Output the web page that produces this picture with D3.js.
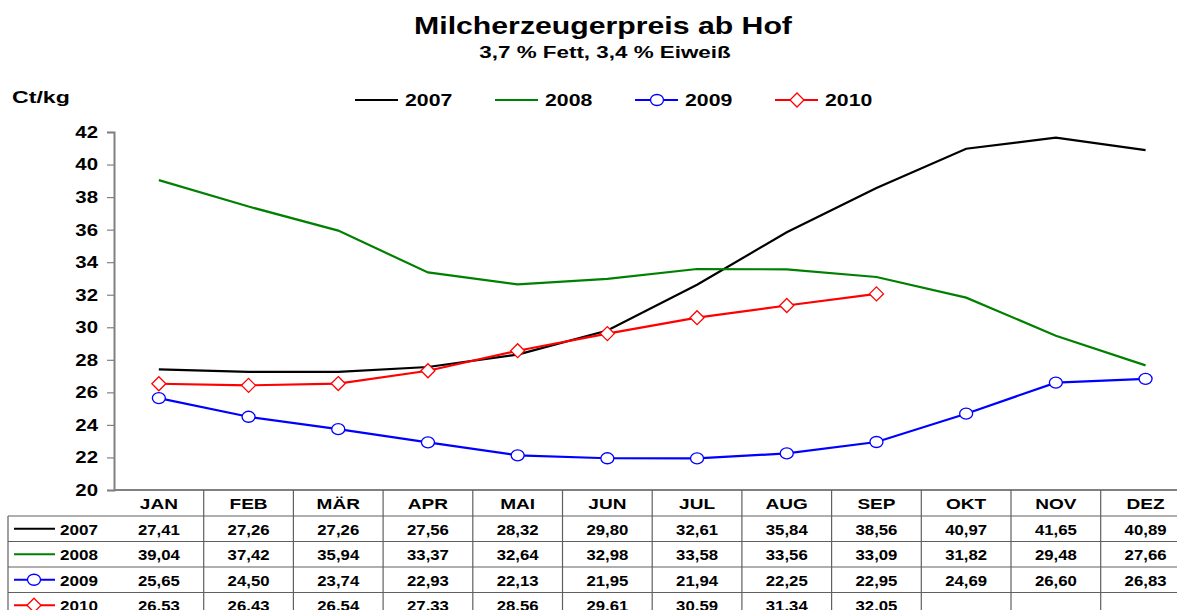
<!DOCTYPE html>
<html>
<head>
<meta charset="utf-8">
<script src="https://cdn.jsdelivr.net/npm/d3@7"></script>
<style>
  body { margin: 0; background: #fff; }
  svg { display: block; font-family: "Liberation Sans", Arial, sans-serif; font-weight: bold; }
</style>
</head>
<body>
<svg></svg>
<script>
// Daten
const months = ["JAN", "FEB", "MÄR", "APR", "MAI", "JUN", "JUL", "AUG", "SEP", "OKT", "NOV", "DEZ"];
const v2007 = [27.41, 27.26, 27.26, 27.56, 28.32, 29.80, 32.61, 35.84, 38.56, 40.97, 41.65, 40.89];
const v2008 = [39.04, 37.42, 35.94, 33.37, 32.64, 32.98, 33.58, 33.56, 33.09, 31.82, 29.48, 27.66];
const v2009 = [25.65, 24.50, 23.74, 22.93, 22.13, 21.95, 21.94, 22.25, 22.95, 24.69, 26.60, 26.83];
const v2010 = [26.53, 26.43, 26.54, 27.33, 28.56, 29.61, 30.59, 31.34, 32.05, null, null, null];
const yTicks = [20, 22, 24, 26, 28, 30, 32, 34, 36, 38, 40, 42];

const series = [
  { name: "2007", values: v2007, color: "#000000", marker: null },
  { name: "2008", values: v2008, color: "#008000", marker: null },
  { name: "2009", values: v2009, color: "#0000ff", marker: "circle" },
  { name: "2010", values: v2010, color: "#ff0000", marker: "diamond" }
];

const W = 1177, H = 610;
const svg = d3.select("svg").attr("width", W).attr("height", H);

const left = 114, colW = 89.7;
const x = d3.scaleBand().domain(months).range([left, left + colW * 12]);
const y = d3.scaleLinear().domain([20, 42]).range([490, 132]);
const fmt = v => v == null ? "" : v.toFixed(2).replace(".", ",");

// Text etwas breiter ziehen (wie im Excel-Original)
function wideText(g, tx, ty, str, size, sx, anchor) {
  return g.append("text")
    .attr("transform", `translate(${tx},${ty}) scale(${sx},1)`)
    .attr("text-anchor", anchor || "start")
    .attr("font-size", size)
    .text(str);
}

// Titel
wideText(svg, 603, 34, "Milcherzeugerpreis ab Hof", 24, 1.26, "middle");
wideText(svg, 605, 58, "3,7 % Fett, 3,4 % Eiweiß", 16, 1.4, "middle");
wideText(svg, 12, 103, "Ct/kg", 17, 1.36);

// Marker zeichnen
function drawMarker(g, type, cx, cy, color) {
  if (type === "circle") {
    g.append("ellipse").attr("cx", cx).attr("cy", cy).attr("rx", 6.5).attr("ry", 5.5)
      .attr("fill", "#fff").attr("stroke", color).attr("stroke-width", 1.3);
  } else if (type === "diamond") {
    g.append("path")
      .attr("d", `M${cx},${cy - 7}L${cx + 7},${cy}L${cx},${cy + 7}L${cx - 7},${cy}Z`)
      .attr("fill", "#fff").attr("stroke", color).attr("stroke-width", 1.3);
  }
}

// Legende oben
const legend = svg.append("g");
series.forEach((s, i) => {
  const lx = 355 + i * 140;
  legend.append("line").attr("x1", lx).attr("x2", lx + 43).attr("y1", 100).attr("y2", 100)
    .attr("stroke", s.color).attr("stroke-width", 2);
  drawMarker(legend, s.marker, lx + 22, 100, s.color);
  wideText(legend, lx + 50, 106, s.name, 17, 1.25);
});

// Y-Achse
const yAxis = d3.axisLeft(y).tickValues(yTicks).tickSize(7).tickFormat(d3.format("d"));
const ya = svg.append("g").attr("transform", `translate(${left},0)`).call(yAxis);
ya.select(".domain").attr("stroke", "#808080").attr("stroke-width", 2);
ya.selectAll(".tick line").attr("stroke", "#808080").attr("stroke-width", 1.2);
ya.selectAll(".tick text").attr("font-size", 17).attr("fill", "#000")
  .attr("font-family", "Liberation Sans, Arial, sans-serif").attr("font-weight", "bold")
  .attr("transform", "scale(1.2,1)").attr("x", -16 / 1.2);

// Tabelle
const table = svg.append("g").attr("stroke", "#606060").attr("stroke-width", 1.2);
const rowTop = 516, rowH = 25.5;
table.append("line").attr("x1", left).attr("x2", W).attr("y1", 490).attr("y2", 490)
  .attr("stroke", "#808080").attr("stroke-width", 2);
for (let r = 0; r <= 4; r++) {
  table.append("line").attr("x1", 8).attr("x2", W)
    .attr("y1", rowTop + r * rowH).attr("y2", rowTop + r * rowH);
}
table.append("line").attr("x1", 8).attr("x2", 8).attr("y1", rowTop).attr("y2", H);
months.forEach(m => {
  const xe = x(m) + x.bandwidth();
  table.append("line").attr("x1", xe).attr("x2", xe).attr("y1", 490).attr("y2", H);
});

const header = svg.append("g");
months.forEach(m => wideText(header, x(m) + x.bandwidth() / 2, 509, m, 15, 1.27, "middle"));

series.forEach((s, i) => {
  const cy = rowTop + i * rowH + rowH / 2;
  const g = svg.append("g");
  g.append("line").attr("x1", 14).attr("x2", 55).attr("y1", cy).attr("y2", cy)
    .attr("stroke", s.color).attr("stroke-width", 2);
  drawMarker(g, s.marker, 34, cy, s.color);
  wideText(g, 60, cy + 6, s.name, 15.5, 1.1);
  s.values.forEach((v, j) => {
    wideText(g, x(months[j]) + x.bandwidth() / 2, cy + 6, fmt(v), 15.5, 1.08, "middle");
  });
});

// Linien
const line = d3.line()
  .defined(d => d != null)
  .x((d, j) => x(months[j]) + x.bandwidth() / 2)
  .y(d => y(d));

series.forEach(s => {
  svg.append("path").datum(s.values).attr("d", line)
    .attr("fill", "none").attr("stroke", s.color).attr("stroke-width", 2.2);
  if (s.marker) {
    const g = svg.append("g");
    s.values.forEach((v, j) => {
      if (v != null) drawMarker(g, s.marker, x(months[j]) + x.bandwidth() / 2, y(v), s.color);
    });
  }
});
</script>
</body>
</html>
